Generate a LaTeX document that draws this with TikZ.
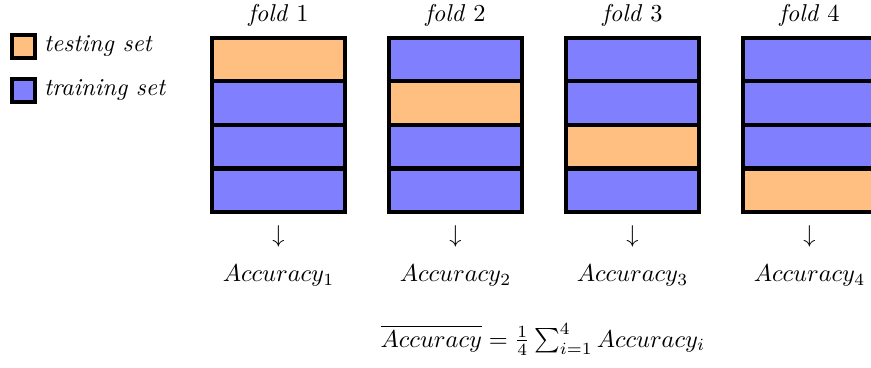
\documentclass[tikz,border=0pt]{standalone}
\begin{document}
\begin{tikzpicture}[x=0.41pt,y=-0.41pt,
  cell/.style={draw=black,line width=1.75pt,minimum width=54.53pt,minimum height=17.88pt,inner sep=0pt,outer sep=0pt},
  test/.style={cell,fill=orange!50},
  train/.style={cell,fill=blue!50},
  legbox/.style={draw=black,line width=1.75pt,minimum width=9.43pt,minimum height=9.43pt,inner sep=0pt,outer sep=0pt},
  lbl/.style={inner sep=0pt,outer sep=0pt}]
\useasboundingbox (0,0) rectangle (871,367);
% legend
\node[legbox,fill=orange!50] (lt) at (23.5,46.3) {};
\node[legbox,fill=blue!50] (lr) at (23.5,90.3) {};
\node[lbl,anchor=base west] (ltt) at (44,51.7) {\textit{testing set}};
\node[lbl,anchor=base west] (lrt) at (44,95.3) {\textit{training set}};
% folds
\foreach \k/\cx in {1/278.5,2/455.5,3/632.5,4/809.5}{
  \foreach \j/\cy in {1/59.5,2/103.1,3/146.7,4/190.3}{
    \ifnum\j=\k
      \node[test] (c\k\j) at (\cx,\cy) {};
    \else
      \node[train] (c\k\j) at (\cx,\cy) {};
    \fi
  }
  \node[lbl,anchor=base] (f\k) at (\cx,21.5) {\textit{fold} $\k$};
  \node[lbl] (d\k) at (\cx,236.5) {$\downarrow$};
  \node[lbl,anchor=base] (a\k) at (\cx,281.7) {$Accuracy_{\k}$};
}
\node[lbl,anchor=base] (avg) at (543,347) {$\overline{Accuracy}=\frac{1}{4}\sum_{i=1}^{4}Accuracy_i$};
\end{tikzpicture}
\end{document}
